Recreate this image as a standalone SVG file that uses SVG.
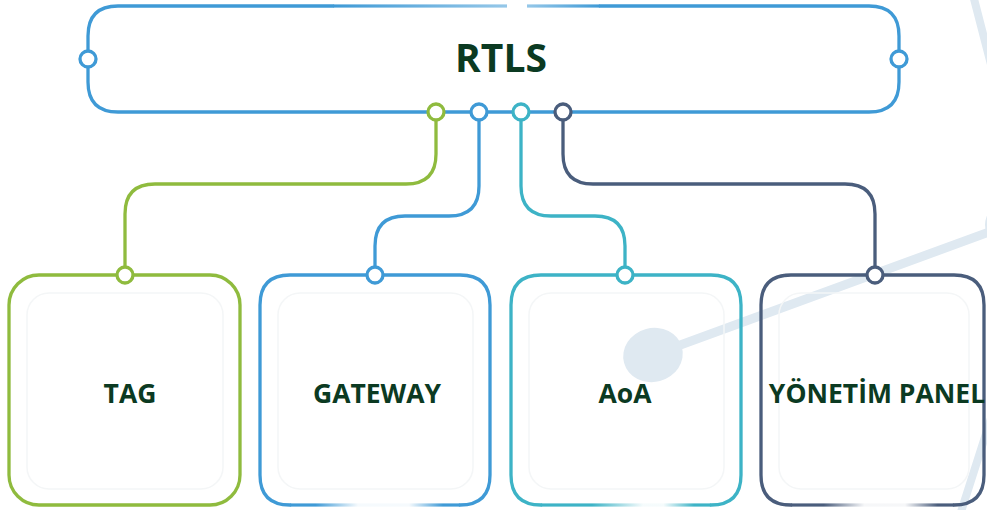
<svg xmlns="http://www.w3.org/2000/svg" width="987" height="510" viewBox="0 0 987 510">
<style>
  .lbl{font-family:"Open Sans","Liberation Sans",sans-serif;font-weight:700;fill:#0b3a22;text-anchor:middle}
  .deco{fill:#dfe9f1}
  .decol{stroke:#dfe9f1;fill:none;stroke-linecap:round}
  .edge{fill:none;stroke-width:3.3;stroke-linecap:round;stroke-linejoin:round}
  .dot{fill:#fff;stroke-width:3.3}
  .inner{fill:none;stroke:#f4f6f7;stroke-width:1.5}
  .green{stroke:#8fbb3e}
  .blue{stroke:#3f9ad6}
  .teal{stroke:#3db3c6}
  .slate{stroke:#4a5d7c}
</style>
<defs>
  <linearGradient id="topL" x1="0" y1="0" x2="1" y2="0">
    <stop offset="0" stop-color="#3f9ad6" stop-opacity="1"/>
    <stop offset="1" stop-color="#3f9ad6" stop-opacity="0.55"/>
  </linearGradient>
  <linearGradient id="topR" x1="0" y1="0" x2="1" y2="0">
    <stop offset="0" stop-color="#3f9ad6" stop-opacity="0.55"/>
    <stop offset="1" stop-color="#3f9ad6" stop-opacity="1"/>
  </linearGradient>
  <linearGradient id="fadeBlue" x1="0" y1="0" x2="1" y2="0">
    <stop offset="0" stop-color="#3f9ad6" stop-opacity="1"/>
    <stop offset="0.15" stop-color="#3f9ad6" stop-opacity="1"/>
    <stop offset="0.4" stop-color="#3f9ad6" stop-opacity="0.05"/>
    <stop offset="0.7" stop-color="#3f9ad6" stop-opacity="0.05"/>
    <stop offset="0.9" stop-color="#3f9ad6" stop-opacity="1"/>
    <stop offset="1" stop-color="#3f9ad6" stop-opacity="1"/>
  </linearGradient>
  <linearGradient id="fadeTeal" x1="0" y1="0" x2="1" y2="0">
    <stop offset="0" stop-color="#3db3c6" stop-opacity="1"/>
    <stop offset="0.3" stop-color="#3db3c6" stop-opacity="1"/>
    <stop offset="0.6" stop-color="#3db3c6" stop-opacity="0.05"/>
    <stop offset="0.72" stop-color="#3db3c6" stop-opacity="0.05"/>
    <stop offset="0.9" stop-color="#3db3c6" stop-opacity="1"/>
    <stop offset="1" stop-color="#3db3c6" stop-opacity="1"/>
  </linearGradient>
  <linearGradient id="fadeSlate" x1="0" y1="0" x2="1" y2="0">
    <stop offset="0" stop-color="#4a5d7c" stop-opacity="1"/>
    <stop offset="0.2" stop-color="#4a5d7c" stop-opacity="1"/>
    <stop offset="0.45" stop-color="#4a5d7c" stop-opacity="0.05"/>
    <stop offset="0.7" stop-color="#4a5d7c" stop-opacity="0.05"/>
    <stop offset="0.9" stop-color="#4a5d7c" stop-opacity="1"/>
    <stop offset="1" stop-color="#4a5d7c" stop-opacity="1"/>
  </linearGradient>
</defs>

<g id="background">
  <line class="decol" x1="653" y1="355" x2="1000" y2="228" stroke-width="9"/>
  <ellipse class="deco" cx="653" cy="355" rx="30" ry="27" transform="rotate(-15 653 355)"/>
  <circle class="deco" cx="1007" cy="225" r="22"/>
  <line class="decol" x1="973" y1="-5" x2="995" y2="80" stroke-width="8"/>
  <line class="decol" x1="1000" y1="390" x2="960" y2="515" stroke-width="8"/>
</g>

<g id="connectors">
  <path class="edge green" d="M436,120 V154 Q436,184 406,184 H155 Q125,184 125,214 V267"/>
  <path class="edge blue" d="M479,120 V186 Q479,216 449,216 H405 Q375,216 375,246 V267"/>
  <path class="edge teal" d="M521,120 V186 Q521,216 551,216 H595 Q625,216 625,246 V267"/>
  <path class="edge slate" d="M563,120 V154 Q563,184 593,184 H845 Q875,184 875,214 V267"/>
</g>

<g id="rtls">
  <path class="edge blue" d="M333,6 H118 Q88,6 88,36 V82 Q88,112 118,112 H869 Q899,112 899,82 V36 Q899,6 869,6 H600"/>
  <rect x="333" y="4.4" width="174" height="3.2" fill="url(#topL)"/>
  <rect x="527" y="4.4" width="73" height="3.2" fill="url(#topR)"/>
  <circle class="dot blue" cx="88" cy="59" r="8"/>
  <circle class="dot blue" cx="899" cy="59" r="8"/>
  <circle class="dot green" cx="436" cy="112" r="8"/>
  <circle class="dot blue" cx="479" cy="112" r="8"/>
  <circle class="dot teal" cx="521" cy="112" r="8"/>
  <circle class="dot slate" cx="563" cy="112" r="8"/>
  <text class="lbl" x="501" y="72" font-size="39">RTLS</text>
</g>

<g id="tag">
  <rect class="inner" x="27" y="293" width="196" height="196" rx="22"/>
  <rect class="edge green" x="9" y="275" width="231" height="230" rx="30"/>
  <circle class="dot green" cx="125" cy="275" r="8"/>
  <text class="lbl" x="130" y="403" font-size="26.5">TAG</text>
</g>

<g id="gateway">
  <rect class="inner" x="278" y="293" width="195" height="196" rx="22"/>
  <path class="edge blue" d="M290,505 Q260,505 260,475 V305 Q260,275 290,275 H460 Q490,275 490,305 V475 Q490,505 460,505"/>
  <rect x="290" y="503.4" width="170" height="3.2" fill="url(#fadeBlue)"/>
  <circle class="dot blue" cx="375" cy="275" r="8"/>
  <text class="lbl" x="377" y="403" font-size="26.5">GATEWAY</text>
</g>

<g id="aoa">
  <rect class="inner" x="529" y="293" width="195" height="196" rx="22"/>
  <path class="edge teal" d="M541,505 Q511,505 511,475 V305 Q511,275 541,275 H711 Q741,275 741,305 V475 Q741,505 711,505"/>
  <rect x="541" y="503.4" width="170" height="3.2" fill="url(#fadeTeal)"/>
  <circle class="dot teal" cx="625" cy="275" r="8"/>
  <text class="lbl" x="625" y="403" font-size="26.5">AoA</text>
</g>

<g id="yonetim">
  <rect class="inner" x="779" y="293" width="190" height="196" rx="22"/>
  <path class="edge slate" d="M791,505 Q761,505 761,475 V305 Q761,275 791,275 H954 Q984,275 984,305 V475 Q984,505 954,505"/>
  <rect x="791" y="503.4" width="163" height="3.2" fill="url(#fadeSlate)"/>
  <circle class="dot slate" cx="875" cy="275" r="8"/>
  <text class="lbl" x="877" y="403" font-size="26.5">YÖNETİM PANEL</text>
</g>
</svg>
